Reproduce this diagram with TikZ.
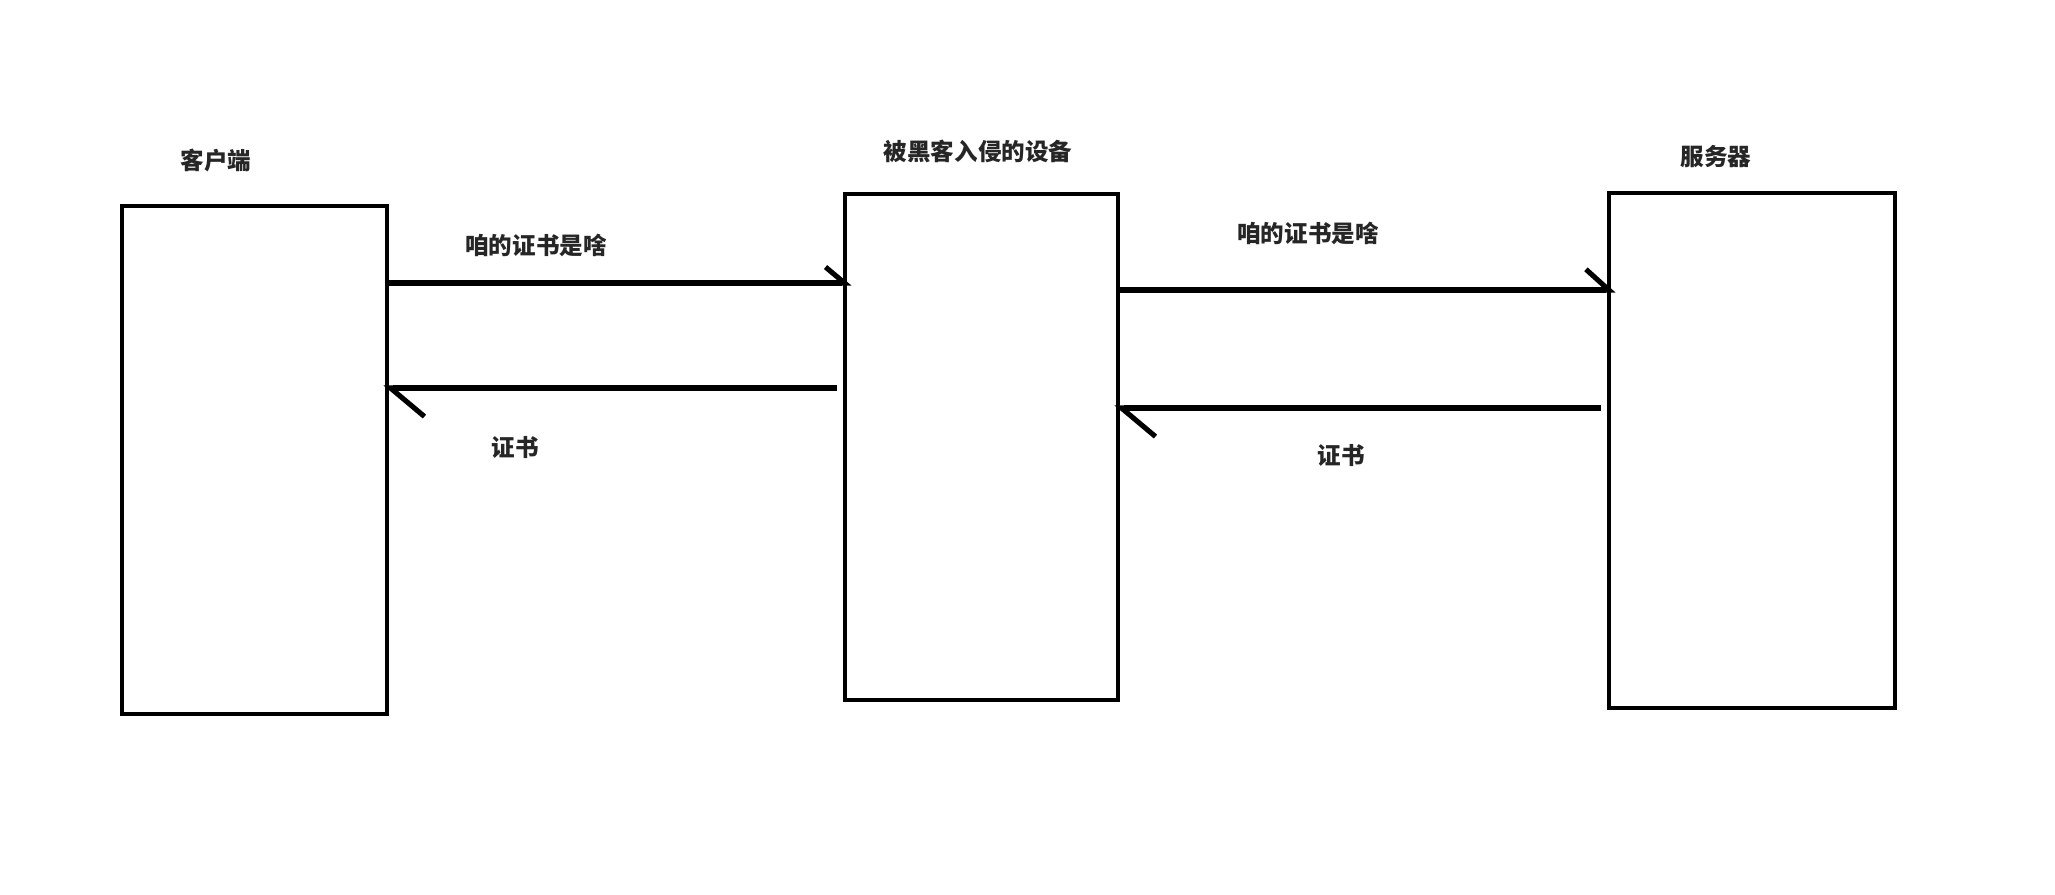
\documentclass[tikz,border=0pt]{standalone}
\usepackage{fontspec}
\newfontfamily\cjk{Noto Sans CJK SC}
\definecolor{ink}{HTML}{000000}
\usetikzlibrary{arrows.meta,positioning}
\tikzset{
  dev/.style={draw=ink,line width=1.4pt,inner sep=0pt,fill=white},
  lab/.style={font=\fontsize{6.7}{8}\cjk\bfseries,inner sep=0pt,text=ink!85},
  arr/.style={draw=ink,line width=1.45pt,shorten >=-0.9mm,-{Straight Barb[harpoon,length=1.9mm,angle'=80]}},
  back/.style={arr,shorten <=0.6mm,shorten >=-0.6mm,-{Straight Barb[harpoon,length=3.4mm,angle'=80]}},
}
\begin{document}
\begin{tikzpicture}
\useasboundingbox (0,0) rectangle (20.55,-8.94);
% the three machines
\node[dev,minimum width=2.65cm,minimum height=5.08cm] (client) at (2.545,-4.60) {};
\node[dev,minimum width=2.73cm,minimum height=5.06cm] (mitm) at (9.815,-4.47) {};
\node[dev,minimum width=2.86cm,minimum height=5.15cm] (server) at (17.52,-4.505) {};
\node[lab] (tclient) at (2.16,-1.60) {客户端};
\node[lab] (tmitm) at (9.78,-1.51) {被黑客入侵的设备};
\node[lab] (tserver) at (17.16,-1.57) {服务器};
% messages
\node[lab] (ask1) at (5.36,-2.45) {咱的证书是啥};
\node[lab] (cert1) at (5.15,-4.47) {证书};
\node[lab] (ask2) at (13.08,-2.33) {咱的证书是啥};
\node[lab] (cert2) at (13.41,-4.56) {证书};
\draw[arr] (client.east |- 0,-2.83) -- (mitm.west |- 0,-2.83);
\draw[back] (mitm.west |- 0,-3.88) -- (client.east |- 0,-3.88);
\draw[arr,-{Straight Barb[harpoon,length=2.3mm,angle'=84]}] (mitm.east |- 0,-2.90) -- (server.west |- 0,-2.90);
\draw[back] (server.west |- 0,-4.08) -- (mitm.east |- 0,-4.08);
\end{tikzpicture}
\end{document}
